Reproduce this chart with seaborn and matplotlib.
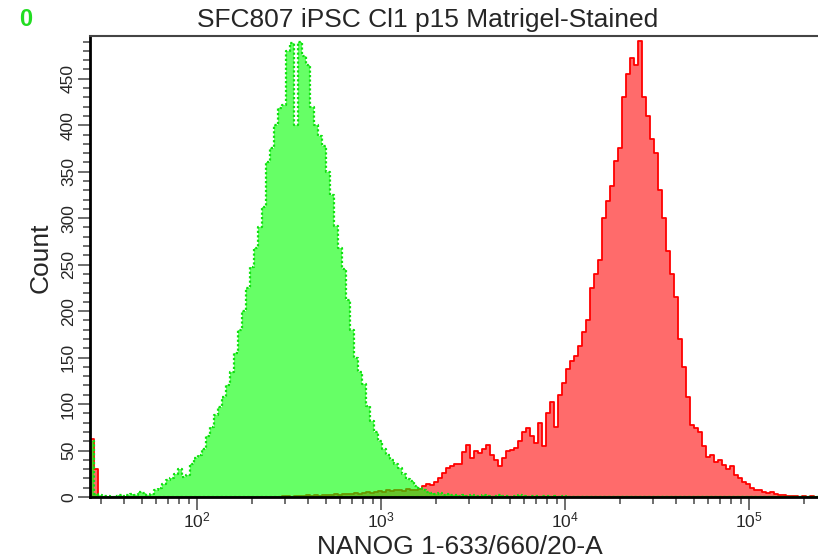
import numpy as np
import pandas as pd
import matplotlib
matplotlib.use("Agg")
import matplotlib.pyplot as plt
import seaborn as sns
from matplotlib.ticker import LogLocator, MultipleLocator, NullFormatter

# ----------------------------------------------------------
# DATA (histogram counts, 182 log bins)
# ----------------------------------------------------------

log_lo = 1.4185   # left edge of the axis, log10 units
log_hi = 5.375    # right edge of the axis, log10 units
n_bins = 182

title_text = "SFC807 iPSC Cl1 p15 Matrigel-Stained"
x_label = "NANOG 1-633/660/20-A"
y_label = "Count"
corner_label = "0"

decade_ticks = [1e2, 1e3, 1e4, 1e5]
decade_labels = [r"$\mathregular{10^{2}}$", r"$\mathregular{10^{3}}$",
                 r"$\mathregular{10^{4}}$", r"$\mathregular{10^{5}}$"]
count_ticks = [0, 50, 100, 150, 200, 250, 300, 350, 400, 450]

# unstained control (green)
control_counts = [
    60, 3, 2, 1, 1, 0, 1, 2, 1, 2, 3, 2, 5, 4,
    2, 3, 7, 10, 14, 18, 20, 25, 30, 22, 24, 35, 42, 45,
    52, 66, 75, 88, 97, 108, 120, 135, 155, 180, 200, 225, 248, 268,
    290, 312, 360, 375, 400, 418, 422, 480, 488, 400, 490, 475, 465, 420,
    400, 388, 378, 350, 325, 292, 268, 245, 212, 180, 150, 135, 122, 98,
    82, 70, 60, 52, 45, 40, 35, 31, 25, 19, 17, 12, 10, 8,
    5, 4, 3, 4, 2, 3, 2, 2, 1, 2, 1, 2, 1, 1,
    2, 1, 0, 1, 2, 1, 1, 0, 1, 2, 1, 0, 1, 1,
    0, 1, 1, 0, 1, 0, 1, 0, 0, 0, 0, 0, 0, 0,
    0, 0, 0, 0, 0, 0, 0, 0, 0, 0, 0, 0, 0, 0,
    0, 0, 0, 0, 0, 0, 0, 0, 0, 0, 0, 0, 0, 0,
    0, 0, 0, 0, 0, 0, 0, 0, 0, 0, 0, 0, 0, 0,
    0, 0, 0, 0, 0, 0, 0, 0, 0, 0, 0, 0, 0, 0,
]

# Matrigel stained (red)
stained_counts = [
    62, 30, 0, 0, 0, 0, 0, 0, 0, 0, 0, 0, 0, 0,
    0, 0, 0, 0, 0, 0, 0, 0, 0, 0, 0, 0, 0, 0,
    0, 0, 0, 0, 0, 0, 0, 0, 0, 0, 0, 0, 0, 0,
    0, 0, 0, 0, 0, 0, 1, 1, 0, 1, 1, 1, 2, 1,
    2, 1, 2, 2, 2, 3, 2, 3, 3, 3, 4, 3, 4, 5,
    4, 5, 6, 5, 7, 6, 8, 7, 6, 9, 8, 7, 9, 12,
    14, 13, 16, 20, 26, 31, 33, 36, 35, 48, 56, 42, 50, 47,
    52, 56, 45, 40, 33, 42, 50, 51, 53, 60, 70, 74, 66, 58,
    80, 55, 90, 102, 75, 110, 123, 138, 146, 152, 162, 178, 190, 225,
    240, 255, 300, 318, 335, 362, 375, 430, 455, 472, 465, 491, 430, 410,
    385, 370, 330, 300, 265, 240, 215, 170, 140, 108, 78, 74, 70, 55,
    43, 45, 38, 40, 34, 30, 33, 24, 20, 16, 14, 10, 8, 7,
    5, 4, 5, 3, 2, 2, 1, 1, 1, 0, 1, 0, 1, 0,
]

# bin centres of the histogram grid
bin_width = (log_hi - log_lo) / n_bins
bin_centres = 10 ** (log_lo + (np.arange(n_bins) + 0.5) * bin_width)

df = pd.DataFrame({
    "value": np.concatenate([bin_centres, bin_centres]),
    "count": control_counts + stained_counts,
    "sample": ["control"] * n_bins + ["stained"] * n_bins,
})

# ----------------------------------------------------------
# PLOT
# ----------------------------------------------------------

sns.set_style("ticks")
plt.rcParams["font.family"] = ["Liberation Sans", "DejaVu Sans"]

fig = plt.figure(figsize=(8.18, 5.6), dpi=100)
ax = fig.add_axes([90 / 818, 63 / 560, 728 / 818, 461 / 560])

hist_kws = dict(x="value", weights="count", bins=n_bins,
                binrange=(log_lo, log_hi), log_scale=True,
                element="step", fill=True, ax=ax)

sns.histplot(data=df[df["sample"] == "stained"],
             facecolor=(1.0, 0.0, 0.0, 0.58), edgecolor="#FF0000",
             linewidth=1.3, **hist_kws)
sns.histplot(data=df[df["sample"] == "control"],
             facecolor=(0.0, 1.0, 0.0, 0.6), edgecolor="#10E010",
             linewidth=1.6, linestyle=(0, (1, 1)), **hist_kws)

ax.set_xlim(10 ** log_lo, 10 ** log_hi)
ax.set_ylim(0, 496)

ax.set_xticks(decade_ticks, labels=decade_labels)
ax.xaxis.set_minor_locator(LogLocator(base=10, subs=np.arange(2, 10)))
ax.xaxis.set_minor_formatter(NullFormatter())
ax.set_yticks(count_ticks)
ax.yaxis.set_minor_locator(MultipleLocator(10))

ax.tick_params(axis="both", which="major", length=9, width=1.2,
               color="#555555", labelsize=12.5, pad=1)
ax.tick_params(axis="both", which="minor", length=5, width=1.2,
               color="#555555")
ax.tick_params(axis="y", labelrotation=90)
for lbl in ax.get_yticklabels():
    lbl.set_verticalalignment("center")

ax.spines["right"].set_visible(False)
ax.spines["top"].set_color("#444444")
ax.spines["top"].set_linewidth(1.5)
for side in ["left", "bottom"]:
    ax.spines[side].set_color("black")
    ax.spines[side].set_linewidth(2.0)

ax.set_xlabel(x_label, fontsize=19)
ax.xaxis.set_label_coords(0.508, -0.082)
ax.set_ylabel(y_label, fontsize=19)
ax.yaxis.set_label_coords(-0.051, 0.52)

fig.text(428 / 818, 1 - 20 / 560, title_text, ha="center", va="center",
         fontsize=19)
fig.text(26 / 818, 1 - 20 / 560, corner_label, ha="center", va="center",
         fontsize=17, fontweight="bold", color="#22DD22")

fig.savefig("out.png", dpi=100)
